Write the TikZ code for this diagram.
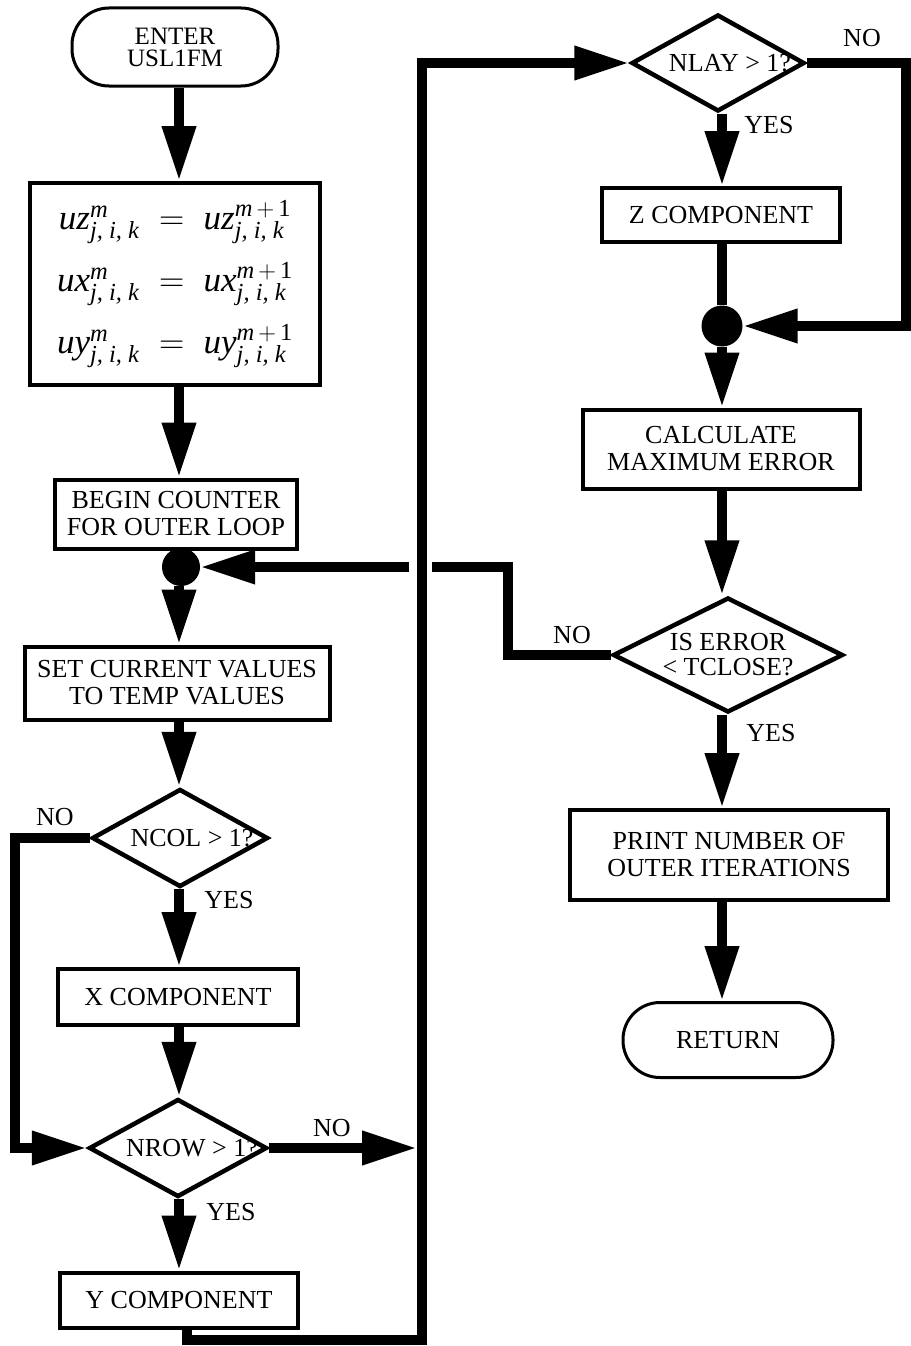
\documentclass[tikz,border=0pt]{standalone}
\usepackage{fix-cm}
\usepackage{amsmath}
\usepackage{fontspec}
\setmainfont{Liberation Serif}
\usetikzlibrary{arrows.meta,shapes.geometric}
\newcommand{\lblfont}{\fontsize{26}{27}\selectfont}
\newcommand{\eqfont}{\fontsize{35}{62}\selectfont}
\newcommand{\itx}[1]{\text{\itshape #1}}
\newcommand{\eqline}[1]{$\itx{#1}^{\itx{m}}_{\itx{j, i, k}} \;=\; \itx{#1}^{\itx{m}\,+\,\text{1}}_{\itx{j, i, k}}$}
\begin{document}
\begin{tikzpicture}[x=1pt,y=-1pt,
  box/.style={draw,line width=4pt,rectangle,inner sep=0pt,align=center,font=\lblfont},
  dec/.style={draw,line width=4.5pt,diamond,inner sep=0pt},
  dectext/.style={font=\lblfont,align=center,inner sep=0pt},
  term/.style={draw,line width=3pt,rectangle,rounded corners=37pt,inner sep=0pt,align=center,font=\lblfont},
  jdot/.style={circle,fill,inner sep=0pt,minimum size=38pt},
  flow/.style={line width=10pt,line join=miter,-{Triangle[length=55pt,width=32pt]}},
  plain/.style={line width=10pt,line join=miter},
  lab/.style={font=\lblfont,inner sep=0pt},
]
\useasboundingbox (0,0) rectangle (910,1346);
% column guides
\coordinate (colL) at (179,0);
\coordinate (colR) at (722,0);
% left column
\node[term,minimum width=206pt,minimum height=78pt,font=\fontsize{25}{22}\selectfont] (enter) at (175,47) {ENTER\\USL1FM};
\node[box,minimum width=290pt,minimum height=202pt,font=\eqfont] (eq) at (175,284)
  {\eqline{uz}\\\eqline{ux}\\\eqline{uy}};
\node[box,minimum width=242pt,minimum height=69pt] (begin) at (176,514) {BEGIN COUNTER\\FOR OUTER LOOP};
\node[jdot] (dot1) at (181,567) {};
\node[box,minimum width=305pt,minimum height=73pt] (setcur) at (177,683) {SET CURRENT VALUES\\TO TEMP VALUES};
\node[dec,minimum width=176pt,minimum height=98pt,label={[dectext,xshift=12pt]center:NCOL > 1?}] (ncol) at (180,838) {};
\node[box,minimum width=240pt,minimum height=56pt] (xcomp) at (178,997) {X COMPONENT};
\node[dec,minimum width=178pt,minimum height=98pt,label={[dectext,xshift=14pt]center:NROW > 1?}] (nrow) at (178,1148) {};
\node[box,minimum width=238pt,minimum height=55pt] (ycomp) at (179,1300) {Y COMPONENT};
% right column
\node[dec,minimum width=173pt,minimum height=97pt,label={[dectext,xshift=12pt]center:NLAY > 1?}] (nlay) at (718,63) {};
\node[box,minimum width=238pt,minimum height=54pt] (zcomp) at (721,215) {Z COMPONENT};
\node[jdot,minimum size=41pt] (dot2) at (722,326) {};
\node[box,minimum width=277pt,minimum height=79pt] (calc) at (721,449) {CALCULATE\\MAXIMUM ERROR};
\node[dec,minimum width=230pt,minimum height=115pt,label={[dectext,font=\fontsize{26}{25}\selectfont]center:IS ERROR\\< TCLOSE?}] (iserr) at (728,655) {};
\node[box,minimum width=318pt,minimum height=90pt] (print) at (729,855) {PRINT NUMBER OF\\OUTER ITERATIONS};
\node[term,minimum width=210pt,minimum height=75pt] (ret) at (728,1040) {RETURN};
% labels
\node[lab] (l1) at (55,817) {NO};
\node[lab] (l2) at (229,900) {YES};
\node[lab] (l3) at (332,1128) {NO};
\node[lab] (l4) at (231,1212) {YES};
\node[lab] (l5) at (862,38) {NO};
\node[lab] (l6) at (769,125) {YES};
\node[lab] (l7) at (572,635) {NO};
\node[lab] (l8) at (771,733) {YES};
% routing coordinates
\coordinate (busL) at (417,0);
\coordinate (bb) at (422,1340);
\coordinate (bt) at (422,63);
\coordinate (rt) at (906,63);
\coordinate (rb) at (906,326);
\coordinate (nk) at (508,567);
\coordinate (gapR) at (432,567);
\coordinate (gapL) at (409,567);
% left column flow
\draw[flow] (enter.south -| colL) -- (eq.north -| colL);
\draw[flow] (eq.south -| colL) -- (begin.north -| colL);
\draw[flow] (dot1.south -| colL) -- (setcur.north -| colL);
\draw[flow] (setcur.south -| colL) -- (ncol.north -| colL);
\draw[flow] (ncol.south -| colL) -- (xcomp.north -| colL);
\draw[flow] (ncol.west) -- ++(-75,0) |- (nrow.west);
\draw[flow] (xcomp.south -| colL) -- (nrow.north -| colL);
\draw[flow] (nrow.east) -- (nrow.east -| busL);
\draw[flow] (nrow.south -| colL) -- (ycomp.north -| colL);
\draw[flow] ([xshift=8pt]ycomp.south) |- (bb) -- (bt) -- (nlay.west);
% right column flow
\draw[flow] (nlay.south -| colR) -- (zcomp.north -| colR);
\draw[plain] (zcomp.south -| colR) -- (dot2);
\draw[flow] (nlay.east) -- (rt) -- (rb) -- (dot2);
\draw[flow] (dot2.south -| colR) -- (calc.north -| colR);
\draw[flow] (calc.south -| colR) -- (iserr.north -| colR);
\draw[flow] (iserr.west) -| (nk) -- (gapR) (gapL) -- (dot1);
\draw[flow] (iserr.south -| colR) -- (print.north -| colR);
\draw[flow] (print.south -| colR) -- (ret.north -| colR);
\end{tikzpicture}
\end{document}
